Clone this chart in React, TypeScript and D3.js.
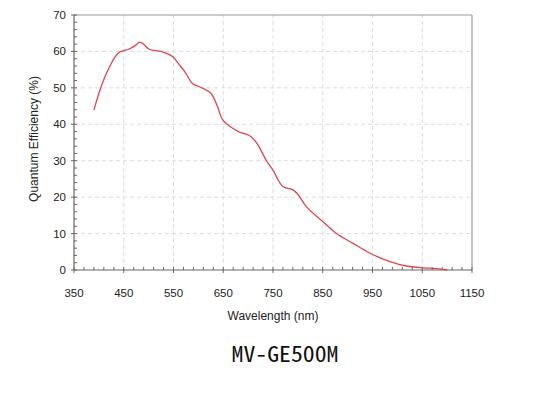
import React from "react";
import * as d3 from "d3";

const wavelength = [390, 405, 420, 440, 460, 475, 481, 488, 501, 515, 528, 548, 562, 575, 588, 602, 625, 638, 649, 669, 684, 696, 706, 719, 736, 750, 770, 790, 800, 817, 850, 877, 911, 945, 985, 1018, 1052, 1079, 1100];
const qe = [43.9, 50.5, 55.4, 59.7, 60.6, 61.8, 62.5, 62.2, 60.6, 60.2, 59.9, 58.6, 56.3, 54.0, 51.2, 50.3, 48.5, 45.0, 41.2, 38.9, 37.8, 37.3, 36.6, 34.5, 30.2, 27.4, 22.9, 22.0, 20.8, 17.4, 13.3, 10.1, 7.3, 4.6, 2.3, 1.1, 0.6, 0.4, 0.0];
const xTicks = [350, 450, 550, 650, 750, 850, 950, 1050, 1150];
const yTicks = [0, 10, 20, 30, 40, 50, 60, 70];
const xTitle = "Wavelength (nm)";
const yTitle = "Quantum Efficiency (%)";
const caption = "MV-GE500M";

export default function App() {
  const x = d3.scaleLinear().domain([350, 1150]).range([74, 472]);
  const y = d3.scaleLinear().domain([0, 70]).range([270, 15]);
  const line = d3
    .line<number>()
    .x((_, i) => x(wavelength[i]))
    .y((d) => y(d))
    .curve(d3.curveCatmullRom.alpha(0.5));
  const xMinor = d3.range(350, 1151, 20).filter((v) => (v - 350) % 100 !== 0);
  const yMinor = d3.range(0, 70.01, 2).filter((v) => v % 10 !== 0);
  const font = "'Liberation Sans', Arial, sans-serif";
  const axisCol = "#666";
  return (
    <svg width={548} height={398} style={{ position: "absolute", left: 0, top: 0, background: "#fff" }}>
      {/* grid */}
      {xTicks.slice(1, -1).map((t) => (
        <line key={"gx" + t} x1={x(t)} x2={x(t)} y1={y(0)} y2={y(70)} stroke="#dcdcdc" strokeDasharray="4,3" strokeWidth={1} />
      ))}
      {yTicks.slice(1, -1).map((t) => (
        <line key={"gy" + t} x1={x(350)} x2={x(1150)} y1={y(t)} y2={y(t)} stroke="#dcdcdc" strokeDasharray="4,3" strokeWidth={1} />
      ))}
      {/* frame */}
      <line x1={x(350)} x2={x(1150)} y1={y(70)} y2={y(70)} stroke="#999" strokeWidth={1.2} />
      <line x1={x(1150)} x2={x(1150)} y1={y(0)} y2={y(70)} stroke="#999" strokeWidth={1.2} />
      <line x1={x(350)} x2={x(1150)} y1={y(0)} y2={y(0)} stroke={axisCol} strokeWidth={1.2} />
      <line x1={x(350)} x2={x(350)} y1={y(0)} y2={y(70)} stroke={axisCol} strokeWidth={1.2} />
      {/* ticks */}
      {xTicks.map((t) => (
        <line key={"xt" + t} x1={x(t)} x2={x(t)} y1={y(0) - 3} y2={y(0) + 3} stroke={axisCol} />
      ))}
      {xMinor.map((t) => (
        <line key={"xm" + t} x1={x(t)} x2={x(t)} y1={y(0) - 3} y2={y(0)} stroke={axisCol} />
      ))}
      {yTicks.map((t) => (
        <line key={"yt" + t} x1={x(350) - 3} x2={x(350) + 3} y1={y(t)} y2={y(t)} stroke={axisCol} />
      ))}
      {yMinor.map((t) => (
        <line key={"ym" + t} x1={x(350)} x2={x(350) + 3} y1={y(t)} y2={y(t)} stroke={axisCol} />
      ))}
      {/* tick labels */}
      {xTicks.map((t) => (
        <text key={"xl" + t} x={x(t)} y={297} textAnchor="middle" fontFamily={font} fontSize={11.5} fill="#222">
          {t}
        </text>
      ))}
      {yTicks.map((t) => (
        <text key={"yl" + t} x={66} y={y(t) + 4} textAnchor="end" fontFamily={font} fontSize={11.5} fill="#222">
          {t}
        </text>
      ))}
      {/* titles */}
      <text x={273} y={320} textAnchor="middle" fontFamily={font} fontSize={12} fill="#222">
        {xTitle}
      </text>
      <text transform={`translate(38,139) rotate(-90)`} textAnchor="middle" fontFamily={font} fontSize={12} fill="#222">
        {yTitle}
      </text>
      {/* curve */}
      <path d={line(qe) || ""} fill="none" stroke="#e0434f" strokeWidth={1.3} />
      {/* caption */}
      <text x={285} y={362} textAnchor="middle" fontFamily="'Noto Sans Mono CJK SC', 'DejaVu Sans Mono', monospace" fontSize={22} textLength={107} lengthAdjust="spacingAndGlyphs" fill="#111">
        {caption}
      </text>
    </svg>
  );
}
